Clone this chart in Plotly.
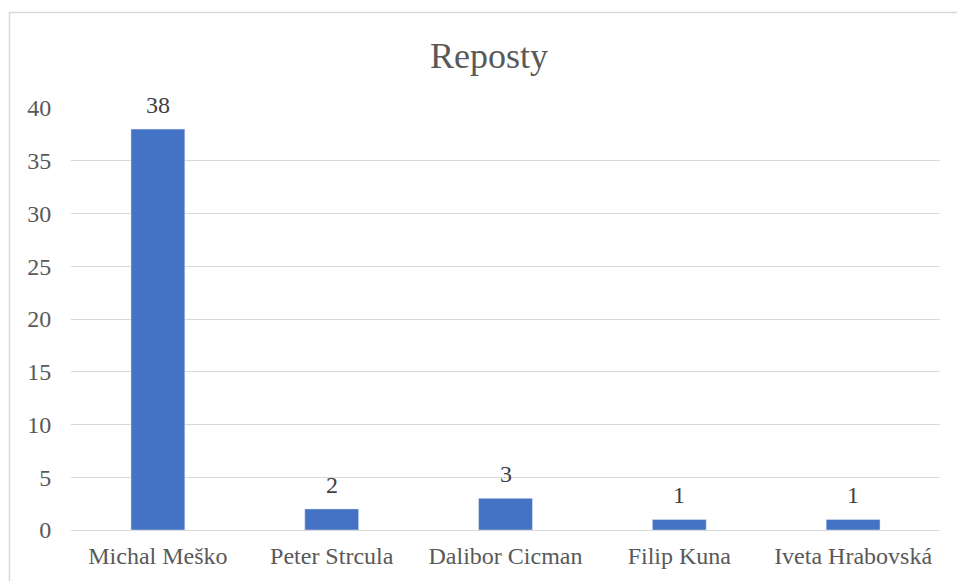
import plotly.graph_objects as go

# Repost counts per person
names = ["Michal Meško", "Peter Strcula", "Dalibor Cicman", "Filip Kuna", "Iveta Hrabovská"]
reposts = [38, 2, 3, 1, 1]
y_ticks = [0, 5, 10, 15, 20, 25, 30, 35, 40]

serif = "Liberation Serif"
text_gray = "#595959"
label_gray = "#404040"
grid_gray = "#d9d9d9"

fig = go.Figure(
    go.Bar(
        x=names,
        y=reposts,
        marker=dict(color="#4472C4"),
        width=0.31,
        hoverinfo="x+y",
    )
)

# value labels placed above each bar
for name, val in zip(names, reposts):
    fig.add_annotation(
        x=name,
        y=val,
        text=str(val),
        showarrow=False,
        yanchor="middle",
        yshift=24,
        font=dict(family=serif, size=24, color=label_gray),
    )

fig.update_layout(
    width=957,
    height=581,
    margin=dict(l=71, r=17, t=108, b=51),
    paper_bgcolor="white",
    plot_bgcolor="white",
    showlegend=False,
    title=dict(
        text="Reposty",
        x=0.511,
        xanchor="center",
        y=0.905,
        yanchor="middle",
        font=dict(family=serif, size=36, color=text_gray),
    ),
    font=dict(family=serif, color=text_gray),
    xaxis=dict(
        showgrid=False,
        showline=True,
        linecolor=grid_gray,
        linewidth=1,
        ticks="",
        ticklabelstandoff=4,
        tickfont=dict(family=serif, size=24, color=text_gray),
    ),
    yaxis=dict(
        range=[0, 40],
        tickvals=y_ticks,
        showgrid=True,
        gridcolor=grid_gray,
        gridwidth=1,
        zeroline=False,
        showline=False,
        ticks="outside",
        ticklen=14,
        tickcolor="rgba(0,0,0,0)",
        tickfont=dict(family=serif, size=24, color=text_gray),
    ),
    shapes=[
        # chart frame (left and top edges fall inside the page)
        dict(
            type="rect",
            xref="paper",
            yref="paper",
            x0=-0.0708,
            x1=1.1,
            y0=-0.3,
            y1=1.2263,
            line=dict(color=grid_gray, width=1.5),
            fillcolor="rgba(0,0,0,0)",
            layer="below",
        )
    ],
)

fig.write_html("out.html")
